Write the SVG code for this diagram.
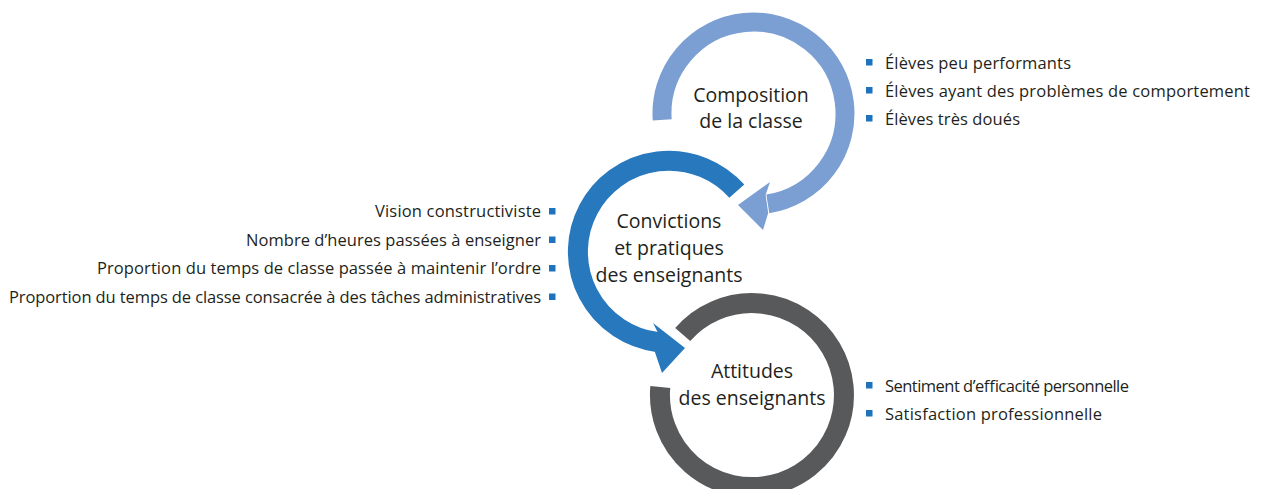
<svg xmlns="http://www.w3.org/2000/svg" width="1263" height="489" viewBox="0 0 1263 489">
<style>
.arc{fill:none;stroke-linecap:butt}
.t{font-family:"Open Sans","Noto Sans","Liberation Sans",sans-serif;fill:#231F20}
.c{font-size:19.5px;text-anchor:middle}
.l{font-size:16.5px}
.r{text-anchor:end}
.b{fill:#1F72BC}
</style>
<rect width="1263" height="489" fill="#ffffff"/>
<g id="connectors">
<path class="arc" stroke="#7B9FD3" stroke-width="19" d="M662.2,119.9 A91.5,91.5 0 1 1 767.8,203.9"/>
<polygon fill="#7B9FD3" points="738,205 770,182 765.6,195.1 768.2,212.9 763,230"/>
<path class="arc" stroke="#2878BE" stroke-width="20" d="M736.8,191.2 A91,91 0 1 0 657,342"/>
<polygon fill="#2878BE" points="685,348 653,323 657.7,332.2 654.9,352 662,373"/>
<path class="arc" stroke="#58595B" stroke-width="20" d="M660.3,387 A92,92 0 1 0 682.7,334.5"/>
</g>
<g id="node-composition">
<text class="t c" x="751" y="102">Composition</text>
<text class="t c" x="751" y="128">de la classe</text>
</g>
<g id="node-convictions">
<text class="t c" x="669" y="228">Convictions</text>
<text class="t c" x="669" y="255">et pratiques</text>
<text class="t c" x="669" y="282">des enseignants</text>
</g>
<g id="node-attitudes">
<text class="t c" x="752" y="378">Attitudes</text>
<text class="t c" x="752" y="405">des enseignants</text>
</g>
<g id="list-composition">
<rect class="b" x="866" y="59" width="6.5" height="6.5"/>
<text class="t l" x="885" y="69" textLength="186" lengthAdjust="spacing">Élèves peu performants</text>
<rect class="b" x="866" y="87" width="6.5" height="6.5"/>
<text class="t l" x="885" y="97" textLength="365" lengthAdjust="spacing">Élèves ayant des problèmes de comportement</text>
<rect class="b" x="866" y="115" width="6.5" height="6.5"/>
<text class="t l" x="885" y="125" textLength="135" lengthAdjust="spacing">Élèves très doués</text>
</g>
<g id="list-convictions">
<rect class="b" x="549" y="208" width="6.5" height="6.5"/>
<text class="t l r" x="541" y="217" textLength="166" lengthAdjust="spacing">Vision constructiviste</text>
<rect class="b" x="549" y="236.5" width="6.5" height="6.5"/>
<text class="t l r" x="541" y="245.5" textLength="295" lengthAdjust="spacing">Nombre d’heures passées à enseigner</text>
<rect class="b" x="549" y="265" width="6.5" height="6.5"/>
<text class="t l r" x="541" y="274" textLength="444" lengthAdjust="spacing">Proportion du temps de classe passée à maintenir l’ordre</text>
<rect class="b" x="549" y="293.5" width="6.5" height="6.5"/>
<text class="t l r" x="541" y="302.5" textLength="532" lengthAdjust="spacing">Proportion du temps de classe consacrée à des tâches administratives</text>
</g>
<g id="list-attitudes">
<rect class="b" x="866" y="382" width="6.5" height="6.5"/>
<text class="t l" x="885" y="392" textLength="244" lengthAdjust="spacing">Sentiment d’efficacité personnelle</text>
<rect class="b" x="866" y="410" width="6.5" height="6.5"/>
<text class="t l" x="885" y="420" textLength="217" lengthAdjust="spacing">Satisfaction professionnelle</text>
</g>
</svg>
